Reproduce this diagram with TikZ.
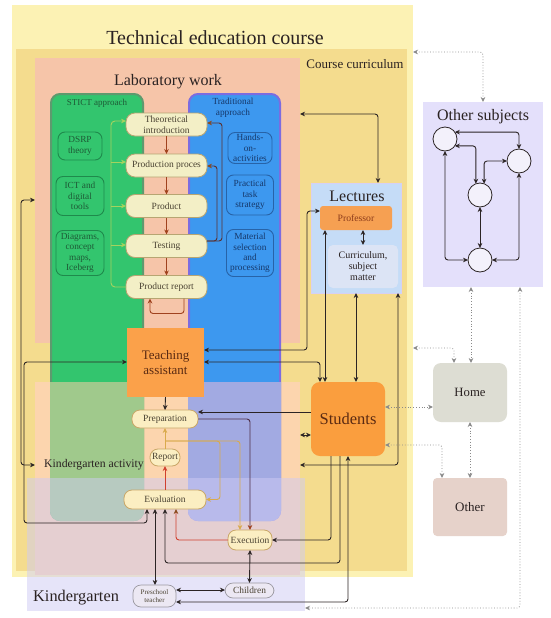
\documentclass[tikz,border=0pt]{standalone}
\usepackage{fontspec}
\setmainfont{Liberation Serif}
\usetikzlibrary{arrows.meta}
\newcommand\myfs[2]{\fontsize{#1}{#2}\selectfont}
\definecolor{teyel}{HTML}{FCF2B4}
\definecolor{cctan}{HTML}{F4DC8E}
\definecolor{labsal}{HTML}{F6C5A9}
\definecolor{kapeach}{HTML}{FCD5AE}
\definecolor{stgreen}{HTML}{33C56E}
\definecolor{stgreenlow}{HTML}{A0C98C}
\definecolor{stborder}{HTML}{5E9A6E}
\definecolor{stitemline}{HTML}{1F8A4C}
\definecolor{trblue}{HTML}{3D98EF}
\definecolor{trbluelow}{HTML}{A2AAE2}
\definecolor{trborder}{HTML}{7C6CE0}
\definecolor{tritemline}{HTML}{2763A8}
\definecolor{kglav}{HTML}{CFCBF5}
\definecolor{lectblue}{HTML}{C5DCF7}
\definecolor{lectborder}{HTML}{D6D0F4}
\definecolor{currbox}{HTML}{DCE4F5}
\definecolor{osblue}{HTML}{E4E0FB}
\definecolor{circfill}{HTML}{F3F1FB}
\definecolor{homegray}{HTML}{DDDDD3}
\definecolor{othpink}{HTML}{E6D2CA}
\definecolor{orangebox}{HTML}{FBA14A}
\definecolor{studorange}{HTML}{FA9E3E}
\definecolor{profor}{HTML}{F6A052}
\definecolor{pillfill}{HTML}{F3EFC6}
\definecolor{pillline}{HTML}{B7A572}
\definecolor{lowfill}{HTML}{FBEEC2}
\definecolor{lowline}{HTML}{C9A768}
\definecolor{kgnodefill}{HTML}{ECE8F3}
\definecolor{kgnodeline}{HTML}{9A98A0}
\definecolor{cline}{HTML}{2B2424}
\definecolor{dotline}{HTML}{8A8A8A}
\definecolor{brownarr}{HTML}{A0421E}
\definecolor{tipbrown}{HTML}{8A4A1E}
\definecolor{darkbrownline}{HTML}{5A3030}
\definecolor{purpline}{HTML}{4E2E48}
\definecolor{greenline}{HTML}{A6D25E}
\definecolor{goldline}{HTML}{D9AA4C}
\definecolor{redline}{HTML}{D0402E}
\definecolor{txtdark}{HTML}{2A2222}
\definecolor{txtbrown}{HTML}{5A2A12}
\definecolor{txtprof}{HTML}{8B3A1A}
\definecolor{txtgreen}{HTML}{1E5A36}
\definecolor{txtblue}{HTML}{16386A}
\definecolor{txtpill}{HTML}{4A4232}
\begin{document}
\begin{tikzpicture}[x=1pt,y=-1pt,
  >={Stealth[length=5pt,width=4.6pt]},
  region/.style={rectangle, inner sep=0pt, outer sep=0pt, draw=none},
  ttl/.style={inner sep=0pt, text=txtdark},
  pill/.style={rectangle, rounded corners=9pt, draw=pillline, fill=pillfill, line width=0.8pt, minimum width=81pt, minimum height=23pt, inner sep=0pt, outer sep=0pt, align=center, font=\myfs{9.5}{10.5}, text=txtpill},
  stictitem/.style={rectangle, rounded corners=7pt, draw=stitemline, line width=0.9pt, fill=stgreen, inner sep=0pt, outer sep=0pt, align=center, font=\myfs{9.3}{10.3}, text=txtgreen},
  traditem/.style={rectangle, rounded corners=7pt, draw=tritemline, line width=0.9pt, fill=trblue, inner sep=0pt, outer sep=0pt, align=center, font=\myfs{9.3}{10.3}, text=txtblue},
  lownode/.style={rectangle, rounded corners=8pt, draw=lowline, fill=lowfill, line width=0.8pt, inner sep=0pt, outer sep=0pt, align=center, font=\myfs{9.5}{10.5}, text=txtpill},
  kgnode/.style={rectangle, rounded corners=8pt, draw=kgnodeline, fill=kgnodefill, line width=0.7pt, inner sep=0pt, outer sep=0pt, align=center, text=txtpill},
  circ/.style={circle, draw=cline, fill=circfill, line width=0.8pt, minimum size=24pt, inner sep=0pt, outer sep=0pt},
  blk/.style={draw=cline, line width=0.9pt, rounded corners=3pt},
  dotln/.style={draw=dotline, line width=0.8pt, dotted, rounded corners=3pt},
  brownflow/.style={draw=brownarr, line width=0.9pt, rounded corners=3pt, ->},
  greenln/.style={draw=greenline, line width=0.9pt, rounded corners=4pt},
  goldarr/.style={draw=goldline, line width=0.9pt, rounded corners=3pt, ->},
  redarr/.style={draw=redline, line width=0.9pt, rounded corners=3pt, ->}
]
\useasboundingbox (0,0) rectangle (550,618);
\fill[white] (0,0) rectangle (550,618);

% ---------- regions ----------
\node[region, fill=teyel, minimum width=401pt, minimum height=572pt] (teched) at (212.5,291) {};
\node[region, fill=cctan, minimum width=391pt, minimum height=522pt] (course) at (211.5,310) {};
\node[region, fill=labsal, minimum width=265pt, minimum height=285pt] (lab) at (167.5,200.5) {};
\node[region, fill=kapeach, minimum width=265pt, minimum height=193pt] (kact) at (167.5,478.5) {};
\node[region, rounded corners=9pt, fill=stgreen, draw=stborder, line width=2pt, minimum width=92pt, minimum height=426pt] (stict) at (97,307) {};
\node[region, rounded corners=9pt, fill=trblue, draw=trborder, line width=2pt, minimum width=91pt, minimum height=426pt] (trad) at (234.5,307) {};
\begin{scope}
  \clip (0,382) rectangle (550,620);
  \fill[stgreenlow, rounded corners=10pt] (50,93) rectangle (144,521);
  \fill[trbluelow, rounded corners=10pt] (188,93) rectangle (281,521);
\end{scope}
\node[region, fill=kglav, fill opacity=0.5, minimum width=278pt, minimum height=133pt] (kg) at (166,544.5) {};
\node[region, fill=lectblue, draw=lectborder, line width=1pt, minimum width=90pt, minimum height=110pt] (lect) at (356,238) {};
\node[region, fill=osblue, minimum width=120pt, minimum height=185pt] (os) at (483,194.5) {};

% ---------- titles ----------
\node[ttl, font=\myfs{20}{22}] (ttech) at (215,38) {Technical education course};
\node[ttl, font=\myfs{13}{15}] (tcourse) at (355,64) {Course curriculum};
\node[ttl, font=\myfs{16}{18}] (tlab) at (168,82) {Laboratory work};
\node[ttl, font=\myfs{9}{10}, text=txtgreen] (tstict) at (97,103) {STICT approach};
\node[ttl, align=center, font=\myfs{9.3}{10.5}, text=txtblue] (ttrad) at (233,108) {Traditional\\approach};
\node[ttl, font=\myfs{16}{18}] (tlect) at (357,196) {Lectures};
\node[ttl, font=\myfs{16}{18}] (tos) at (483,117) {Other subjects};
\node[ttl, anchor=west, font=\myfs{11.7}{13}] (tkact) at (44,465) {Kindergarten activity};
\node[ttl, anchor=west, font=\myfs{16.3}{18}] (tkg) at (33,598) {Kindergarten};

% ---------- lab process ----------
\node[pill] (ti) at (166.5,124.5) {Theoretical\\introduction};
\node[pill] (pp) at (166.5,165.5) {Production proces};
\node[pill] (pr) at (166.5,206) {Product};
\node[pill] (te) at (166.5,246) {Testing};
\node[pill] (rep) at (166.5,287) {Product report};

\node[stictitem, minimum width=44pt, minimum height=28pt] (dsrp) at (80,146) {DSRP\\theory};
\node[stictitem, minimum width=48pt, minimum height=39pt] (ict) at (80,196) {ICT and\\digital\\tools};
\node[stictitem, minimum width=48pt, minimum height=45pt] (diag) at (80,253) {Diagrams,\\concept\\maps,\\Iceberg};

\node[traditem, minimum width=44pt, minimum height=31pt] (hands) at (250,148) {Hands-\\on-\\activities};
\node[traditem, minimum width=47pt, minimum height=40pt] (pts) at (250,195) {Practical\\task\\strategy};
\node[traditem, minimum width=47pt, minimum height=47pt] (msp) at (250,253) {Material\\selection\\and\\processing};

% ---------- main nodes ----------
\node[region, fill=orangebox, minimum width=77pt, minimum height=69pt, align=center, font=\myfs{13}{15}, text=txtbrown] (ta) at (165.5,362.5) {Teaching\\assistant};
\node[lownode, minimum width=66pt, minimum height=18pt] (prep) at (165,419) {Preparation};
\node[lownode, minimum width=30pt, minimum height=17pt] (report) at (165,457.5) {Report};
\node[lownode, minimum width=82pt, minimum height=19pt] (eval) at (165,499.5) {Evaluation};
\node[lownode, minimum width=44pt, minimum height=20pt] (exec) at (250,540) {Execution};
\node[kgnode, minimum width=43pt, minimum height=22pt, font=\myfs{7}{8}] (pt) at (154.5,596) {Preschool\\teacher};
\node[kgnode, minimum width=49pt, minimum height=15pt, font=\myfs{9.4}{10}] (children) at (249.5,590.5) {Children};

\node[rectangle, rounded corners=9pt, fill=studorange, minimum width=74pt, minimum height=74pt, inner sep=0pt, outer sep=0pt, font=\myfs{16.5}{18}, text=txtbrown] (students) at (348,419) {Students};
\node[rectangle, rounded corners=3pt, fill=profor, minimum width=72pt, minimum height=24pt, inner sep=0pt, outer sep=0pt, font=\myfs{9.7}{11}, text=txtprof] (prof) at (356,218) {Professor};
\node[rectangle, rounded corners=5pt, fill=currbox, minimum width=70pt, minimum height=43pt, inner sep=0pt, outer sep=0pt, align=center, font=\myfs{10}{11}, text=txtdark] (cursubj) at (363,266.5) {Curriculum,\\subject\\matter};
\node[rectangle, rounded corners=8pt, fill=homegray, minimum width=74pt, minimum height=59pt, inner sep=0pt, outer sep=0pt, font=\myfs{12.7}{14}, text=txtdark] (home) at (470,392.5) {Home};
\node[rectangle, rounded corners=4pt, fill=othpink, minimum width=74pt, minimum height=58pt, inner sep=0pt, outer sep=0pt, font=\myfs{13}{14}, text=txtdark] (other) at (470,507) {Other};

\node[circ] (c1) at (445,139) {};
\node[circ] (c2) at (519,161) {};
\node[circ] (c3) at (480,195) {};
\node[circ] (c4) at (480,260) {};

% ---------- lab connectors ----------
\draw[brownflow] (ti.south) -- (pp.north);
\draw[brownflow] (pp.south) -- (pr.north);
\draw[brownflow] (pr.south) -- (te.north);
\draw[brownflow] (te.south) -- (rep.north);
\draw[greenln, ->] (rep.west) -- (111,287) -- (111,121) -- (ti.west |- 0,121);
\draw[greenln, ->] (111,162) -- (pp.west |- 0,162);
\draw[greenln, ->] (111,206) -- (pr.west);
\draw[greenln, ->] (111,245) -- (te.west |- 0,245);
\draw[draw=darkbrownline, line width=0.9pt, rounded corners=3pt, -{Stealth[length=5pt,width=4.6pt,color=tipbrown]}] (te.east |- 0,241) -- (222,241) -- (222,123) -- (ti.east |- 0,123);
\draw[draw=darkbrownline, line width=0.9pt, rounded corners=3pt, -{Stealth[length=5pt,width=4.6pt,color=tipbrown]}] (te.east |- 0,241) -- (217,241) -- (217,166) -- (pp.east |- 0,166);
\draw[brownflow] ([xshift=17.5pt]rep.south) -- ++(0,15) -| ([xshift=-16.5pt]rep.south);

% ---------- kindergarten activity connectors ----------
\draw[blk, ->] (ta.south) -- (prep.north);
\draw[goldarr] (report.north) -- (prep.south);
\draw[redarr] (eval.north) -- (report.south);
\draw[goldarr] (165,441) -- (220,441) |- (eval.east);
\draw[goldarr] (165,441) -| ([xshift=-10pt]exec.north);
\draw[draw=purpline, line width=0.9pt, rounded corners=3pt, -{Stealth[length=5pt,width=4.6pt,color=brownarr]}] (prep.east) -| (exec.north);
\draw[draw=redline, line width=0.9pt, rounded corners=3pt, -{Stealth[length=5pt,width=4.6pt,color=tipbrown]}] (exec.west) -| ([xshift=11pt]eval.south);
\draw[blk, ->] (students.west |- 0,412) -- (prep.east |- 0,412);
\draw[blk, <->] (kact.east |- 0,435) -- (students.west |- 0,435);
\draw[blk, <->] (lect.south -| 398,0) -- (398,465) -- (kact.east |- 0,465);
\draw[blk, ->] (students.south -| 331,0) |- (exec.east);
\draw[blk, ->] (students.south -| 340,0) -- (340,563) -| (eval.south);
\draw[blk, <->] (students.south -| 348,0) |- (pt.east |- 0,602);
\draw[blk, <->] (eval.south -| 155,0) -- (pt.north -| 155,0);
\draw[blk, <->] (pt.east |- 0,590) -- (children.west |- 0,590);
\draw[blk, <->] (exec.south) -- (children.north);
\draw[blk, <->] (eval.south -| 147,0) -- (147,523) -- (24,523) -- (24,362) -- (ta.west |- 0,362);
\draw[blk, <->] (lab.west |- 0,200) -- (21,200) -- (21,465) -- (kact.west |- 0,465);

% ---------- lectures / students ----------
\draw[blk, <->] (ta.east |- 0,350) -- (307,350) -- (307,211) -- (prof.west |- 0,211);
\draw[blk, <->] (ta.east |- 0,362) -- (320,362) -- (students.north -| 320,0);
\draw[blk, <->] (prof.south -| 325,0) -- (students.north -| 325,0);
\draw[blk, <->] (lect.south -| 356,0) -- (students.north -| 356,0);
\draw[blk, <->] (prof.south -| 363,0) -- (cursubj.north -| 363,0);
\draw[blk, <->] (lab.east |- 0,114) -- (378,114) -- (lect.north -| 378,0);

% ---------- dotted links ----------
\draw[dotln, <->] (teched.east |- 0,52) -- (483,52) -- (os.north -| 483,0);
\draw[dotln, <->] (teched.east |- 0,348) -- (454,348) -- (home.north -| 454,0);
\draw[dotln, <->] (os.south -| 471,0) -- (home.north -| 471,0);
\draw[dotln, <->] (os.south -| 520,0) -- (520,608) -- (kg.east |- 0,608);
\draw[dotln, <->] (students.east |- 0,407) -- (home.west |- 0,407);
\draw[dotln, <->] (home.south) -- (other.north);
\draw[dotln, <->] (students.east |- 0,445) -- (442,445) -- (other.north -| 442,0);

% ---------- other subjects graph ----------
\draw[blk, <->] (c1.35) -| (c2.north);
\draw[blk, <->] (c1.-35) -| (c3.110);
\draw[blk, <->] (c2.west) -| (c3.70);
\draw[blk, <->] (c3.south) -- (c4.north);
\draw[blk, <->] (c1.south) |- (c4.west);
\draw[blk, <->] (c2.south) |- (c4.east);
\end{tikzpicture}
\end{document}
